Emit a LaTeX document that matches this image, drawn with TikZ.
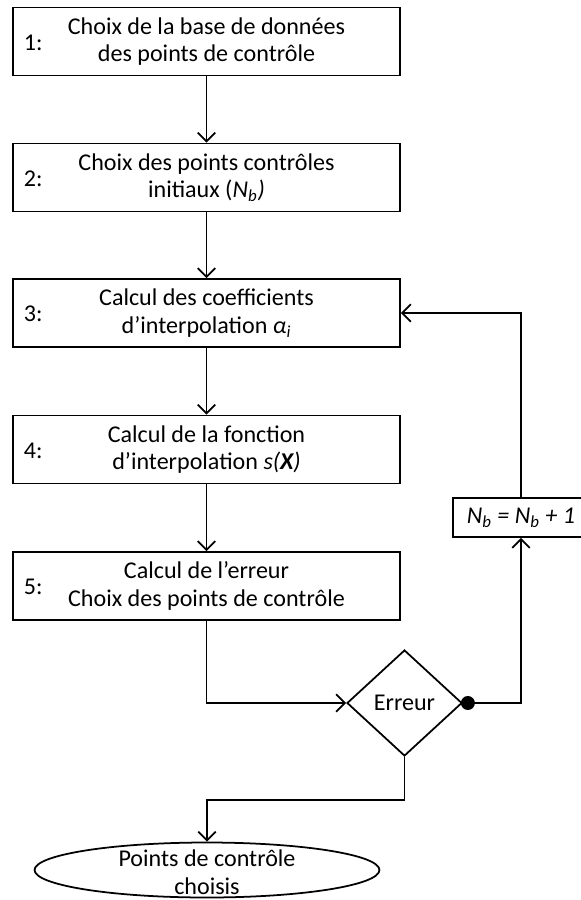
\documentclass[tikz,border=0pt]{standalone}
\usepackage{fontspec}
\setmainfont{Carlito}
\usetikzlibrary{shapes.geometric,arrows.meta}
\begin{document}
\begin{tikzpicture}[x=0.02cm, y=-0.02cm, line width=1pt,
  every node/.style={font=\fontsize{13.7}{15.8}\selectfont},
  stepbox/.style={draw, minimum width=7.74cm, minimum height=1.36cm, align=center, inner sep=0pt},
  numlbl/.style={anchor=west, inner sep=0pt},
  testshape/.style={draw, diamond, minimum width=2.3cm, minimum height=2.12cm, inner sep=0pt},
  endshape/.style={draw, ellipse, minimum width=6.9cm, minimum height=1.1cm, inner sep=0pt},
  flow/.style={-{Straight Barb[length=5pt,width=10pt]}}]
  \clip (0,0) rectangle (581,900);
  % main steps
  \node[stepbox] (s1) at (206.5,41.5) {Choix de la base de données\\des points de contrôle};
  \node[stepbox] (s2) at (206.5,177.5) {Choix des points contrôles\\initiaux (\textit{N\textsubscript{b})}};
  \node[stepbox] (s3) at (206.5,313) {Calcul des coefficients\\d’interpolation \textit{α\textsubscript{i}}};
  \node[stepbox] (s4) at (206.5,449.5) {Calcul de la fonction\\d’interpolation \textit{s(\textbf{X})}};
  \node[stepbox] (s5) at (206.5,586) {Calcul de l’erreur\\Choix des points de contrôle};
  \node[numlbl] (n1) at (23,42.5) {1:};
  \node[numlbl] (n2) at (23,178.5) {2:};
  \node[numlbl] (n3) at (23,314) {3:};
  \node[numlbl] (n4) at (23,450.5) {4:};
  \node[numlbl] (n5) at (23,587) {5:};
  % test and loop
  \node[testshape] (dec) at (404.5,703) {Erreur};
  \node[draw, minimum width=2.72cm, minimum height=0.78cm, inner sep=0pt] (inc) at (521,517.5)
    {\textit{N\textsubscript{b} = N\textsubscript{b} + 1}};
  \node[endshape] (fin) at (207,870) {};
  \node[align=center, inner sep=0pt] (fintxt) at (207,872) {Points de contrôle\\choisis};
  % connectors
  \draw[flow] (s1) -- (s2);
  \draw[flow] (s2) -- (s3);
  \draw[flow] (s3) -- (s4);
  \draw[flow] (s4) -- (s5);
  \draw[flow] (s5.south) |- (dec.west);
  \coordinate (dot) at ([xshift=0.1cm]dec.east);
  \draw[flow] (dec.east) -| (inc.south);
  \fill (dot) circle (0.14cm);
  \draw[flow] (inc.north) |- (s3.east);
  \coordinate (bend) at (404.5,800);
  \draw[flow] (dec.south) -- (bend) -| (fin.north);
\end{tikzpicture}
\end{document}
